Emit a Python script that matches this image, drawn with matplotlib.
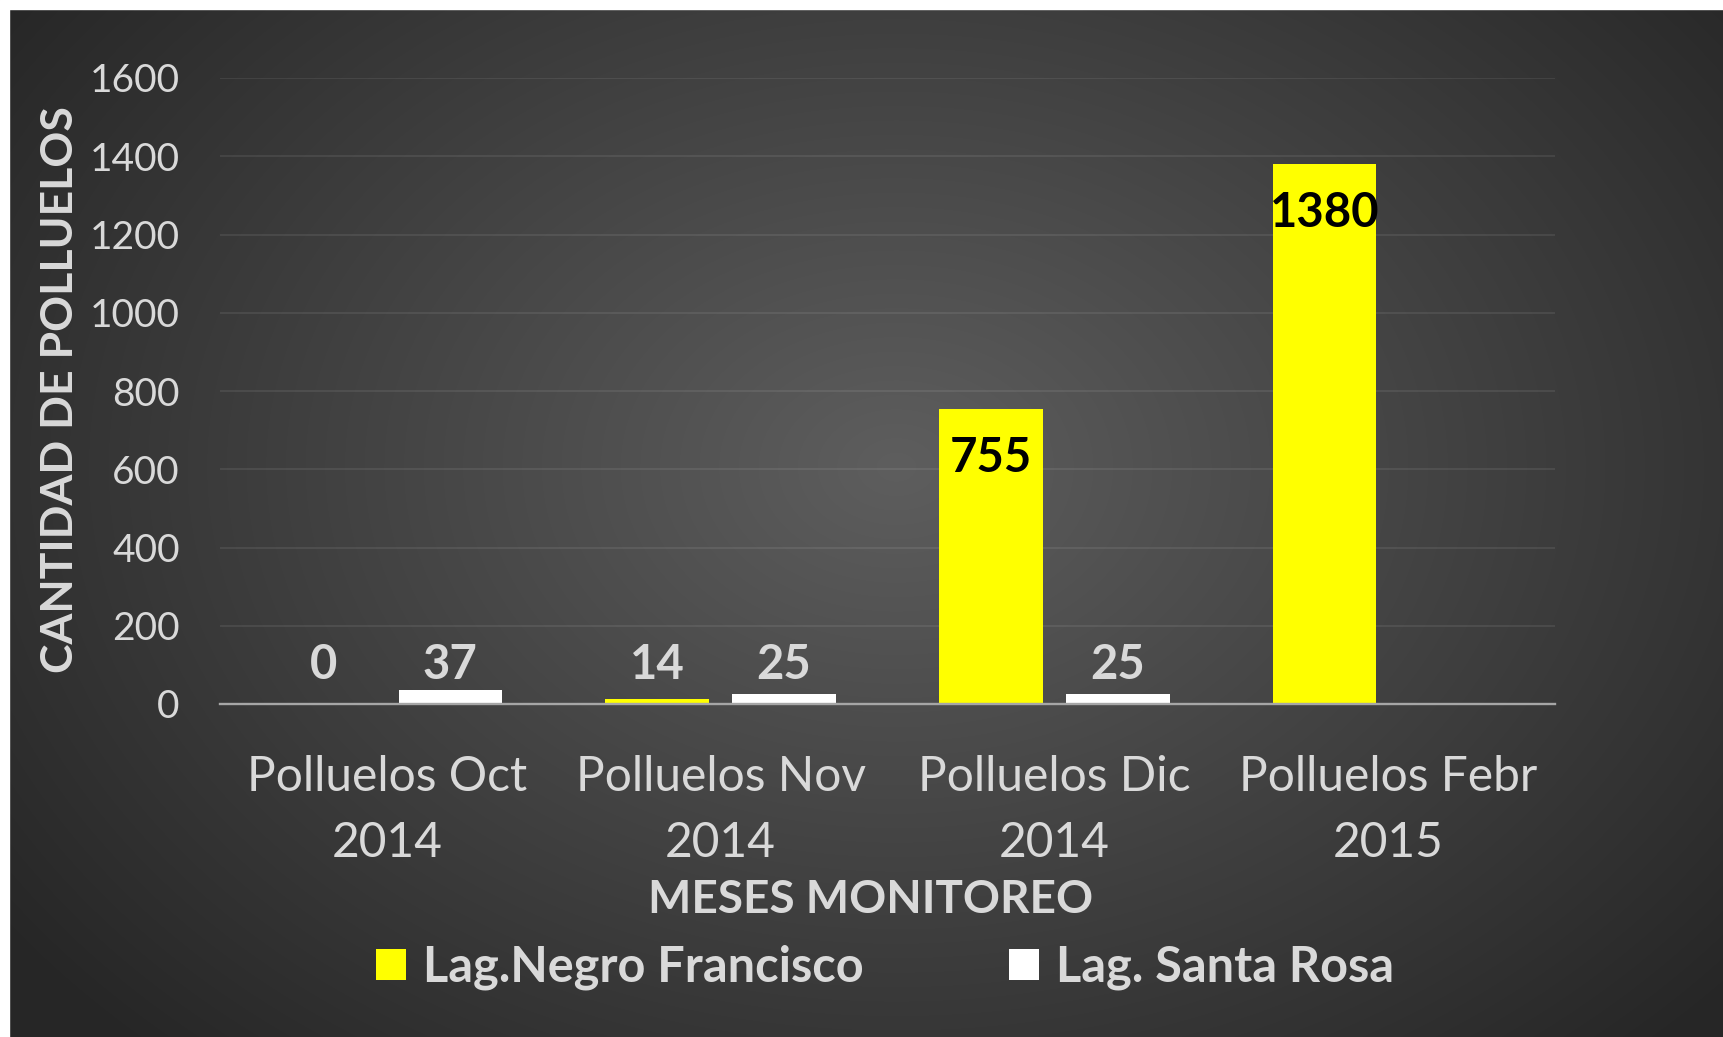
import numpy as np
import matplotlib
matplotlib.use('Agg')
import matplotlib.pyplot as plt
from matplotlib.patches import Rectangle

# ---------------- data ----------------
categories = ['Polluelos Oct\n2014', 'Polluelos Nov\n2014', 'Polluelos Dic\n2014', 'Polluelos Febr\n2015']
negro_francisco = [0, 14, 755, 1380]
santa_rosa = [37, 25, 25, np.nan]
series_names = ['Lag.Negro Francisco', 'Lag. Santa Rosa']
yticks = [0, 200, 400, 600, 800, 1000, 1200, 1400, 1600]
x_title = 'MESES MONITOREO'
y_title = 'CANTIDAD DE POLLUELOS'

plt.rcParams['font.family'] = ['Lato', 'DejaVu Sans']

W, H = 1723, 1037
fig = plt.figure(figsize=(W / 100, H / 100), dpi=100)

# background radial gradient
bg = fig.add_axes([0, 0, 1, 1])
yy, xx = np.mgrid[0:H, 0:W]
cx, cy = 0.52 * W, 0.45 * H
r = np.sqrt(((xx - cx) / (0.64 * W)) ** 2 + ((yy - cy) / (0.78 * H)) ** 2)
c0, c1 = 0x5e / 255, 0x26 / 255
val = c0 - (c0 - c1) * np.clip(r, 0, 1)
img = np.dstack([val, val, val])
bg.imshow(img, extent=[0, 1, 0, 1], aspect='auto', origin='upper')
bg.set_xlim(0, 1)
bg.set_ylim(0, 1)
bg.axis('off')
bg.add_patch(Rectangle((0, 1 - 9 / H), 1, 9 / H, color='white', zorder=5))
bg.add_patch(Rectangle((0, 0), 9 / W, 1, color='white', zorder=5))

# main axes
ax = fig.add_axes([220 / W, 1 - 704 / H, (1555 - 220) / W, (704 - 78) / H])
ax.patch.set_alpha(0)
x = np.arange(len(categories))
off, bw = 0.19, 0.31
b1 = ax.bar(x - off, negro_francisco, bw, color='#FFFF00', edgecolor='none', zorder=2, label=series_names[0])
b2 = ax.bar(x + off, santa_rosa, bw, color='#FFFFFF', edgecolor='none', zorder=2, label=series_names[1])

ax.set_xlim(-0.5, len(categories) - 0.5)
ax.set_ylim(0, 1600)
ax.set_yticks(yticks)
ax.set_xticks(x)
ax.set_xticklabels(categories)
ax.yaxis.grid(True, color='white', alpha=0.08, lw=1.5)
ax.set_axisbelow(True)
for s in ['top', 'right', 'left']:
    ax.spines[s].set_visible(False)
ax.spines['bottom'].set_color('#a6a6a6')
ax.spines['bottom'].set_linewidth(1.7)
ax.spines['bottom'].set_zorder(3)
ax.tick_params(axis='y', length=0, labelsize=28, labelcolor='#d9d9d9', pad=29)
ax.tick_params(axis='x', length=0, labelsize=34.5, labelcolor='#d9d9d9', pad=36.5)
for t in ax.get_xticklabels():
    t.set_linespacing(1.62)

# data labels
for xs, vals in [(x - off, negro_francisco), (x + off, santa_rosa)]:
    for xi, v in zip(xs, vals):
        if np.isnan(v):
            continue
        if v > 200:
            ax.text(xi, v - 126, f'{int(v)}', ha='center', va='center', fontsize=34,
                    fontweight='bold', color='black', zorder=4)
        else:
            ax.text(xi, 99, f'{int(v)}', ha='center', va='center', fontsize=34,
                    fontweight='bold', color='#d9d9d9', zorder=4)

# axis titles
fig.text(871 / W, 1 - 900 / H, x_title, ha='center', va='center', fontsize=33,
         fontweight='bold', color='#d9d9d9')
fig.text(60 / W, 1 - 390 / H, y_title, ha='center', va='center', fontsize=32,
         fontweight='bold', color='#d9d9d9', rotation=90)

# legend
leg = fig.legend(handles=[b1, b2], labels=series_names, loc='center',
                 bbox_to_anchor=(885 / W, 1 - 967 / H), ncol=2, frameon=False,
                 fontsize=35, handlelength=0.62, handleheight=0.6,
                 handletextpad=0.34, columnspacing=3.0, borderpad=0, borderaxespad=0)
for t in leg.get_texts():
    t.set_color('#d9d9d9')
    t.set_fontweight('bold')

fig.savefig('out.png', dpi=100)
